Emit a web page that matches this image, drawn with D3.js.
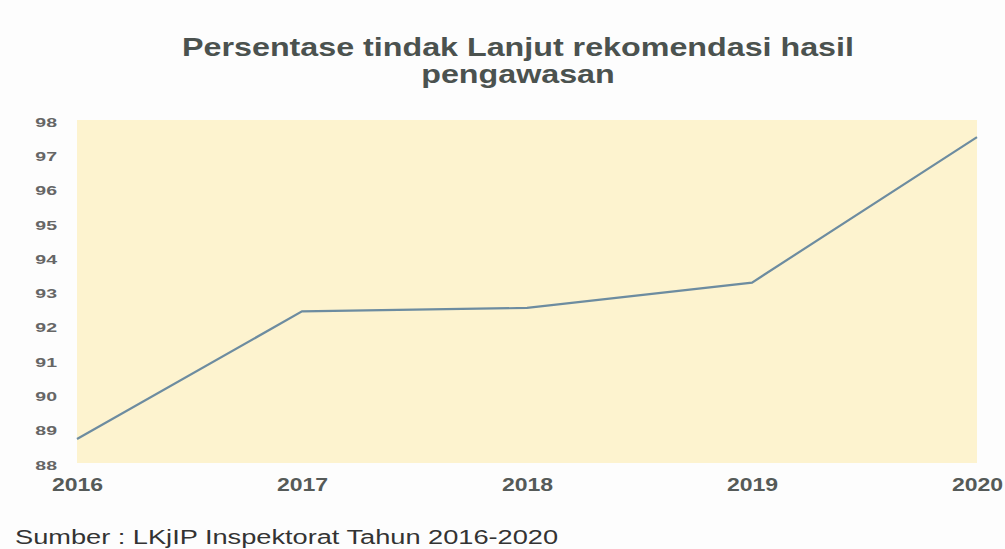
<!DOCTYPE html>
<html>
<head>
<meta charset="utf-8">
<script src="https://cdnjs.cloudflare.com/ajax/libs/d3/7.8.5/d3.min.js"></script>
<style>
  body { margin: 0; background: #fdfdfd; }
  svg { display: block; font-family: "Liberation Sans", Arial, sans-serif; }
</style>
</head>
<body>
<script>
// data
var years = ["2016", "2017", "2018", "2019", "2020"];
var values = [88.7, 92.42, 92.52, 93.26, 97.5];
var yTicks = [88, 89, 90, 91, 92, 93, 94, 95, 96, 97, 98];
var titleLines = ["Persentase tindak Lanjut rekomendasi hasil", "pengawasan"];
var sourceText = "Sumber : LKjIP Inspektorat Tahun 2016-2020";

var w = 1005, h = 549;
var margin = {top: 120, right: 28, bottom: 86, left: 77};
var graphWidth = w - margin.left - margin.right;
var graphHeight = h - margin.top - margin.bottom;

var svg = d3.select("body").append("svg")
  .attr("width", w)
  .attr("height", h);

// title (the scanned original is stretched sideways, so text is widened)
svg.append("g").selectAll("text")
  .data(titleLines)
  .enter().append("text")
  .attr("transform", (d, i) => `translate(518, ${56 + i * 27}) scale(1.29, 1)`)
  .attr("text-anchor", "middle")
  .attr("font-size", 25)
  .attr("font-weight", "bold")
  .attr("fill", "#4b524f")
  .text(d => d);

var graph = svg.append("g")
  .attr("transform", `translate(${margin.left}, ${margin.top})`);

// scales
var xScale = d3.scalePoint()
  .domain(years)
  .range([0, graphWidth]);

var yScale = d3.scaleLinear()
  .domain([88, 98])
  .range([graphHeight, 0]);

// plot area background
graph.append("rect")
  .attr("width", graphWidth)
  .attr("height", graphHeight)
  .attr("fill", "#fdf3cf");

// axes
var yAxis = graph.append("g")
  .call(d3.axisLeft(yScale).tickValues(yTicks).tickSize(0));

var xAxis = graph.append("g")
  .attr("transform", `translate(0, ${graphHeight})`)
  .call(d3.axisBottom(xScale).tickSize(0).tickPadding(15));

yAxis.select(".domain").remove();
xAxis.select(".domain").remove();

yAxis.selectAll("text")
  .attr("x", 0)
  .attr("transform", "translate(-20, 2) scale(1.5, 1)")
  .attr("font-size", 13)
  .attr("font-weight", "bold")
  .attr("fill", "#666");

xAxis.selectAll("text")
  .attr("transform", "scale(1.28, 1)")
  .attr("font-size", 18)
  .attr("font-weight", "bold")
  .attr("fill", "#555a58");

// the line
var line = d3.line()
  .x((d, i) => xScale(years[i]))
  .y(d => yScale(d));

graph.append("path")
  .datum(values)
  .attr("fill", "none")
  .attr("stroke", "#6d8ca0")
  .attr("stroke-width", 2.2)
  .attr("d", line);

// source note
svg.append("text")
  .attr("transform", "translate(15, 544) scale(1.36, 1)")
  .attr("font-size", 20)
  .attr("fill", "#333")
  .text(sourceText);
</script>
</body>
</html>
